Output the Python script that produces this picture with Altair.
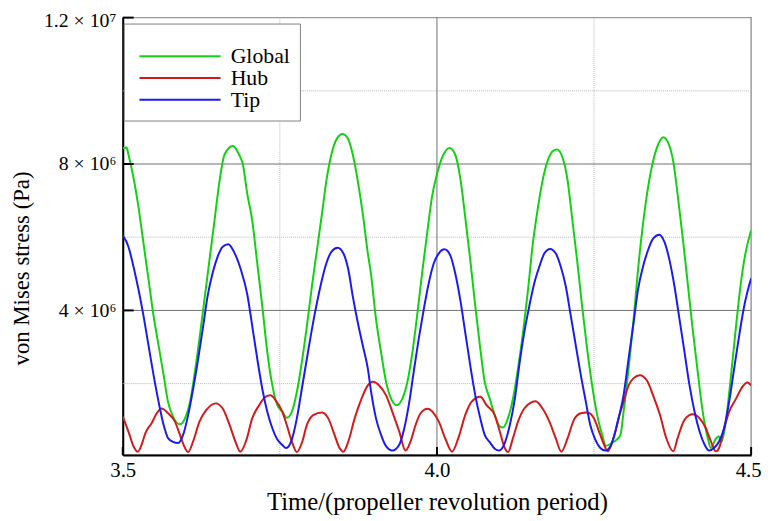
import altair as alt
import pandas as pd

# ---------------- data (stress in units of 10^6 Pa) ----------------
global_t = [3.500, 3.506, 3.509, 3.517, 3.525, 3.533, 3.541, 3.549, 3.557, 3.565,
            3.572, 3.580, 3.591, 3.599, 3.607, 3.614, 3.622, 3.630, 3.638, 3.646,
            3.654, 3.662, 3.675, 3.685, 3.691, 3.698, 3.706, 3.714, 3.722, 3.730,
            3.738, 3.746, 3.754, 3.761, 3.769, 3.777, 3.785, 3.793, 3.801, 3.809,
            3.817, 3.824, 3.832, 3.840, 3.850, 3.859, 3.866, 3.874, 3.882, 3.890,
            3.895, 3.903, 3.911, 3.919, 3.927, 3.936, 3.945, 3.953, 3.961, 3.969,
            3.977, 3.985, 3.992, 4.000, 4.008, 4.020, 4.029, 4.037, 4.045, 4.053,
            4.061, 4.069, 4.076, 4.084, 4.092, 4.100, 4.105, 4.113, 4.121, 4.129,
            4.137, 4.145, 4.152, 4.160, 4.168, 4.176, 4.184, 4.191, 4.200, 4.208,
            4.215, 4.223, 4.231, 4.239, 4.247, 4.255, 4.263, 4.269, 4.276, 4.286,
            4.292, 4.297, 4.305, 4.313, 4.320, 4.328, 4.336, 4.344, 4.352, 4.360,
            4.368, 4.376, 4.383, 4.391, 4.399, 4.407, 4.415, 4.423, 4.431, 4.436,
            4.443, 4.448, 4.453, 4.459, 4.467, 4.475, 4.483, 4.491, 4.500]
global_v = [8.43, 8.45, 8.26, 7.63, 6.82, 5.83, 4.84, 3.85, 3.04, 2.23,
            1.50, 1.10, 0.89, 1.05, 1.50, 2.23, 3.22, 4.30, 5.38, 6.46,
            7.54, 8.26, 8.49, 8.26, 8.00, 7.20, 6.46, 5.29, 4.12, 2.86,
            1.95, 1.41, 1.23, 1.07, 1.23, 1.77, 2.59, 3.58, 4.66, 5.65,
            6.64, 7.54, 8.26, 8.67, 8.82, 8.67, 8.26, 7.54, 6.64, 5.56,
            5.00, 3.76, 2.86, 2.05, 1.59, 1.41, 1.59, 2.05, 2.86, 3.94,
            5.11, 6.19, 7.09, 7.72, 8.17, 8.44, 8.26, 7.63, 6.55, 5.38,
            4.12, 2.95, 2.05, 1.59, 1.14, 0.83, 0.80, 1.05, 1.59, 2.41,
            3.40, 4.57, 5.74, 6.73, 7.54, 8.08, 8.35, 8.40, 8.17, 7.54,
            6.55, 5.38, 4.12, 2.95, 1.95, 1.14, 0.60, 0.30, 0.35, 0.47,
            0.60, 1.23, 2.41, 3.76, 5.11, 6.37, 7.36, 8.08, 8.53, 8.73,
            8.58, 8.08, 7.18, 6.01, 4.75, 3.49, 2.32, 1.23, 0.51, 0.24,
            0.47, 0.56, 0.41, 0.87, 2.05, 3.40, 4.66, 5.56, 6.19]

hub_t = [3.500, 3.509, 3.517, 3.524, 3.530, 3.536, 3.546, 3.554, 3.562, 3.572,
         3.583, 3.591, 3.599, 3.604, 3.612, 3.622, 3.633, 3.648, 3.659, 3.670,
         3.680, 3.687, 3.696, 3.706, 3.717, 3.727, 3.735, 3.743, 3.754, 3.761,
         3.769, 3.777, 3.785, 3.793, 3.803, 3.817, 3.827, 3.837, 3.845, 3.851,
         3.859, 3.869, 3.880, 3.890, 3.898, 3.908, 3.919, 3.929, 3.940, 3.950,
         3.958, 3.966, 3.974, 3.985, 3.995, 4.003, 4.013, 4.024, 4.034, 4.045,
         4.055, 4.069, 4.079, 4.092, 4.100, 4.108, 4.113, 4.121, 4.129, 4.139,
         4.157, 4.168, 4.179, 4.189, 4.198, 4.208, 4.218, 4.229, 4.239, 4.250,
         4.258, 4.266, 4.272, 4.281, 4.289, 4.297, 4.305, 4.313, 4.323, 4.334,
         4.344, 4.355, 4.365, 4.376, 4.383, 4.394, 4.407, 4.418, 4.428, 4.436,
         4.444, 4.449, 4.457, 4.465, 4.476, 4.486, 4.494, 4.500]
hub_v = [1.10, 0.69, 0.29, 0.14, 0.33, 0.65, 0.92, 1.19, 1.32, 1.19,
         0.96, 0.60, 0.24, 0.13, 0.42, 0.96, 1.28, 1.46, 1.32, 0.87,
         0.38, 0.14, 0.42, 1.05, 1.41, 1.64, 1.68, 1.55, 1.23, 0.87,
         0.42, 0.13, 0.38, 0.87, 1.14, 1.21, 1.05, 0.60, 0.24, 0.14,
         0.42, 1.05, 1.59, 1.95, 2.05, 1.95, 1.68, 1.23, 0.69, 0.17,
         0.42, 0.87, 1.19, 1.31, 1.19, 0.96, 0.51, 0.14, 0.51, 1.14,
         1.50, 1.64, 1.41, 1.14, 0.69, 0.24, 0.13, 0.51, 0.96, 1.32,
         1.52, 1.32, 0.96, 0.51, 0.14, 0.51, 1.01, 1.19, 1.21, 1.05,
         0.69, 0.33, 0.15, 0.51, 1.05, 1.50, 1.95, 2.15, 2.23, 2.09,
         1.68, 1.14, 0.51, 0.15, 0.51, 1.01, 1.16, 1.05, 0.78, 0.42,
         0.15, 0.24, 0.78, 1.23, 1.59, 1.91, 2.03, 1.95]

tip_t = [3.500, 3.509, 3.517, 3.525, 3.533, 3.541, 3.549, 3.557, 3.565, 3.572,
         3.580, 3.588, 3.596, 3.604, 3.612, 3.620, 3.628, 3.635, 3.643, 3.651,
         3.659, 3.668, 3.677, 3.688, 3.698, 3.706, 3.714, 3.722, 3.730, 3.738,
         3.746, 3.754, 3.760, 3.769, 3.777, 3.785, 3.793, 3.801, 3.809, 3.817,
         3.824, 3.832, 3.842, 3.851, 3.859, 3.866, 3.874, 3.882, 3.890, 3.895,
         3.903, 3.911, 3.919, 3.929, 3.940, 3.948, 3.956, 3.963, 3.971, 3.979,
         3.987, 3.995, 4.003, 4.012, 4.021, 4.029, 4.037, 4.045, 4.053, 4.061,
         4.069, 4.076, 4.084, 4.092, 4.099, 4.108, 4.116, 4.124, 4.131, 4.139,
         4.147, 4.155, 4.163, 4.171, 4.180, 4.189, 4.197, 4.205, 4.213, 4.221,
         4.229, 4.237, 4.244, 4.252, 4.260, 4.268, 4.276, 4.284, 4.289, 4.297,
         4.305, 4.313, 4.320, 4.328, 4.336, 4.344, 4.354, 4.362, 4.370, 4.378,
         4.386, 4.394, 4.402, 4.410, 4.418, 4.426, 4.433, 4.441, 4.449, 4.457,
         4.465, 4.473, 4.481, 4.489, 4.500]
tip_v = [6.05, 5.74, 5.20, 4.57, 3.85, 3.04, 2.23, 1.50, 0.87, 0.51,
         0.41, 0.38, 0.60, 1.14, 1.86, 2.68, 3.58, 4.39, 5.02, 5.47,
         5.74, 5.81, 5.60, 5.11, 4.45, 3.58, 2.68, 1.86, 1.23, 0.78,
         0.47, 0.32, 0.24, 0.47, 1.05, 1.86, 2.68, 3.49, 4.21, 4.84,
         5.29, 5.60, 5.71, 5.56, 5.11, 4.39, 3.67, 3.04, 2.41, 1.80,
         1.05, 0.60, 0.29, 0.17, 0.33, 0.78, 1.50, 2.32, 3.22, 4.03,
         4.75, 5.29, 5.56, 5.67, 5.51, 5.02, 4.30, 3.40, 2.50, 1.68,
         1.05, 0.60, 0.40, 0.22, 0.17, 0.38, 0.87, 1.59, 2.50, 3.40,
         4.12, 4.75, 5.20, 5.56, 5.68, 5.56, 5.20, 4.66, 3.85, 3.04,
         2.23, 1.50, 0.87, 0.47, 0.24, 0.17, 0.29, 0.69, 1.05, 1.68,
         2.68, 3.67, 4.57, 5.20, 5.65, 5.96, 6.07, 5.87, 5.38, 4.66,
         3.76, 2.86, 1.95, 1.23, 0.69, 0.33, 0.17, 0.24, 0.42, 0.78,
         1.50, 2.41, 3.31, 4.12, 4.88]

series_names = ["Global", "Hub", "Tip"]
series_colors = ["#12d012", "#d21a1a", "#1a1af5"]

x_tick_values = [3.5, 4.0, 4.5]
y_tick_values = [4, 8, 12]
y_tick_labels = ["4 × 10⁶", "8 × 10⁶", "1.2 × 10⁷"]
x_major_grid = [4.0]
x_minor_grid = [3.75, 4.25]
y_major_grid = [4, 8]
y_minor_grid = [2, 6, 10]

# ---------------- build ----------------
frames = []
for name, ts, vs in [("Global", global_t, global_v), ("Hub", hub_t, hub_v), ("Tip", tip_t, tip_v)]:
    frames.append(pd.DataFrame({"t": ts, "v": vs, "series": name}))
df = pd.concat(frames, ignore_index=True)

W, H = 635, 442
FONT = "Liberation Serif"
xs = alt.Scale(domain=[3.5, 4.5], nice=False, zero=False)
ys = alt.Scale(domain=[0.05, 12], nice=False, zero=False)

label_expr = " : ".join(
    f"datum.value == {v} ? '{lab}'" for v, lab in zip(y_tick_values, y_tick_labels)
) + " : ''"

x_axis = alt.Axis(values=x_tick_values, format=".1f", title="Time/(propeller revolution period)",
                  grid=False, ticks=False, domain=True, domainColor="black", domainWidth=2,
                  labelFont=FONT, labelFontSize=21, labelColor="black", labelPadding=5,
                  labelFlush=False, labelOverlap=False,
                  labelOffset={"condition": {"test": "datum.value == 4.5", "value": -3}, "value": 0},
                  titleFont=FONT, titleFontSize=25, titleFontWeight="normal", titleColor="black",
                  titleBaseline="alphabetic", titleY=55)
y_axis = alt.Axis(values=y_tick_values, labelExpr=label_expr, title="von Mises stress (Pa)",
                  grid=False, ticks=False, domain=True, domainColor="black", domainWidth=2,
                  labelFont=FONT, labelFontSize=20, labelColor="black", labelPadding=7,
                  labelFlush=False, labelOverlap=False,
                  labelOffset={"condition": {"test": "datum.value == 12", "value": 3}, "value": 0},
                  titleFont=FONT, titleFontSize=23, titleFontWeight="normal", titleColor="black",
                  titleBaseline="alphabetic", titleX=-95, titleY=253)

def hrules(vals, **kw):
    return alt.Chart(pd.DataFrame({"v": vals})).mark_rule(**kw).encode(
        y=alt.Y("v:Q", scale=ys, axis=y_axis))

def vrules(vals, **kw):
    return alt.Chart(pd.DataFrame({"t": vals})).mark_rule(**kw).encode(
        x=alt.X("t:Q", scale=xs, axis=x_axis))

minor_h = hrules(y_minor_grid, color="#b8b8b8", strokeWidth=1, strokeDash=[1, 1])
minor_v = vrules(x_minor_grid, color="#b8b8b8", strokeWidth=1, strokeDash=[1, 1])
major_h = hrules(y_major_grid, color="#6e6e6e", strokeWidth=1)
major_v = vrules(x_major_grid, color="#6e6e6e", strokeWidth=1)

lines = alt.Chart(df).mark_line(strokeWidth=2, clip=True, interpolate="monotone").encode(
    x=alt.X("t:Q", scale=xs, axis=x_axis),
    y=alt.Y("v:Q", scale=ys, axis=y_axis),
    color=alt.Color("series:N", sort=series_names,
                    scale=alt.Scale(domain=series_names, range=series_colors),
                    legend=alt.Legend(title=" ", titleFontSize=8, titlePadding=4,
                                      orient="none", legendX=1, legendY=6,
                                      direction="vertical", fillColor="white",
                                      strokeColor="#808080", padding=10,
                                      symbolType="M-1,0H15", symbolSize=105,
                                      symbolStrokeWidth=2, labelFont=FONT,
                                      labelFontSize=22, labelColor="black",
                                      labelOffset=76, rowPadding=0)),
)

yticks = alt.Chart(pd.DataFrame({"v": y_tick_values})).mark_rule(color="black", strokeWidth=2).encode(
    y=alt.Y("v:Q", scale=ys, axis=y_axis), x=alt.value(0), x2=alt.value(11))
xticks = alt.Chart(pd.DataFrame({"t": x_tick_values})).mark_rule(color="black", strokeWidth=2).encode(
    x=alt.X("t:Q", scale=xs, axis=x_axis), y=alt.value(H), y2=alt.value(H - 8))

chart = alt.layer(minor_h, minor_v, major_h, major_v, lines, yticks, xticks).properties(
    width=W, height=H,
    autosize=alt.AutoSizeParams(type="none"),
    padding={"left": 116, "top": 7, "right": 11, "bottom": 64},
).configure_view(stroke="#9a9a9a", strokeWidth=1.5)

chart.save("out.html", embed_options={"renderer": "svg", "actions": False})
